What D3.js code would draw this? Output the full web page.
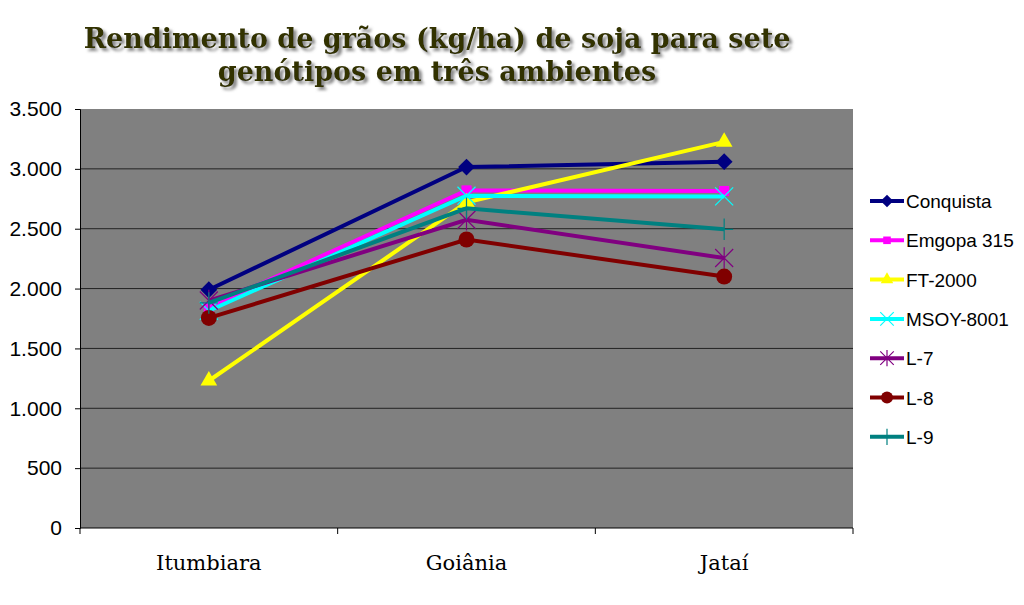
<!DOCTYPE html>
<html>
<head>
<meta charset="utf-8">
<script src="https://cdn.jsdelivr.net/npm/d3@7"></script>
<style>
  body { margin: 0; background: #fff; }
  svg { display: block; }
</style>
</head>
<body>
<svg class="chart" width="1024" height="605"></svg>
<script>
const width = 1024;
const height = 605;
const margin = { top: 109, right: 171, bottom: 77, left: 80 };

// data
const locais = ['Itumbiara', 'Goiânia', 'Jataí'];
const genotipos = ['Conquista', 'Emgopa 315', 'FT-2000', 'MSOY-8001', 'L-7', 'L-8', 'L-9'];
const conquista = [1990, 3015, 3060];
const emgopa315 = [1845, 2820, 2815];
const ft2000 = [1230, 2720, 3225];
const msoy8001 = [1815, 2775, 2770];
const l7 = [1900, 2575, 2255];
const l8 = [1755, 2410, 2100];
const l9 = [1880, 2670, 2495];
const yTicks = [0, 500, 1000, 1500, 2000, 2500, 3000, 3500];

const cores = ['#000080', '#ff00ff', '#ffff00', '#00ffff', '#800080', '#800000', '#008080'];
const simbolos = ['diamond', 'square', 'triangle', 'x', 'asterisk', 'circle', 'plus'];
const valores = [conquista, emgopa315, ft2000, msoy8001, l7, l8, l9];

const series = genotipos.map((nome, i) => ({
  nome,
  cor: cores[i],
  simbolo: simbolos[i],
  valores: valores[i].map((v, j) => ({ local: locais[j], v })),
}));

const w = width - margin.left - margin.right;
const h = height - margin.top - margin.bottom;

const svg = d3.select('.chart');

const defs = svg.append('defs');
const sombra = defs.append('filter').attr('id', 'sombra')
  .attr('x', '-5%').attr('y', '-20%').attr('width', '110%').attr('height', '140%');
sombra.append('feGaussianBlur').attr('in', 'SourceAlpha').attr('stdDeviation', 1.5);
sombra.append('feOffset').attr('dx', 3).attr('dy', 3).attr('result', 'off');
sombra.append('feFlood').attr('flood-color', '#888');
sombra.append('feComposite').attr('in2', 'off').attr('operator', 'in');
const merge = sombra.append('feMerge');
merge.append('feMergeNode');
merge.append('feMergeNode').attr('in', 'SourceGraphic');

// title
const titulo = svg.append('text')
  .attr('x', 437)
  .attr('text-anchor', 'middle')
  .attr('font-family', 'DejaVu Serif, serif')
  .attr('font-weight', 'bold')
  .attr('font-size', 27)
  .attr('fill', '#333300')
  .attr('filter', 'url(#sombra)');
titulo.append('tspan').attr('x', 437).attr('y', 48).text('Rendimento de grãos (kg/ha) de soja para sete');
titulo.append('tspan').attr('x', 437).attr('y', 81).text('genótipos em três ambientes');

const g = svg.append('g').attr('transform', `translate(${margin.left},${margin.top})`);

const x = d3.scaleBand().domain(locais).range([0, w]);
const y = d3.scaleLinear().domain([0, 3500]).range([h, 0]);

g.append('rect').attr('width', w).attr('height', h).attr('fill', '#808080');

g.append('g')
  .selectAll('line')
  .data(yTicks.filter(t => t > 0 && t < 3500))
  .join('line')
  .attr('x1', 0).attr('x2', w)
  .attr('y1', d => y(d)).attr('y2', d => y(d))
  .attr('stroke', '#222').attr('stroke-width', 1);

const fmt = d3.format(',');
const yAxis = g.append('g')
  .call(d3.axisLeft(y).tickValues(yTicks).tickSize(5).tickPadding(13)
    .tickFormat(d => fmt(d).replace(/,/g, '.')));
yAxis.select('.domain').attr('stroke', '#000');
yAxis.selectAll('.tick line').attr('stroke', '#000');
yAxis.selectAll('text')
  .attr('font-family', 'Liberation Sans, Arial, sans-serif')
  .attr('font-size', 21)
  .attr('fill', '#000');

const xAxisG = g.append('g').attr('transform', `translate(0,${h})`);
xAxisG.append('line').attr('x1', 0).attr('x2', w).attr('stroke', '#000');
xAxisG.selectAll('.tk')
  .data([0, 1, 2, 3])
  .join('line')
  .attr('class', 'tk')
  .attr('x1', i => i * x.bandwidth()).attr('x2', i => i * x.bandwidth())
  .attr('y1', 0).attr('y2', 6)
  .attr('stroke', '#000');
xAxisG.selectAll('text')
  .data(locais)
  .join('text')
  .attr('x', d => x(d) + x.bandwidth() / 2)
  .attr('y', 42)
  .attr('text-anchor', 'middle')
  .attr('font-family', 'DejaVu Serif, serif')
  .attr('font-size', 21)
  .attr('fill', '#000')
  .text(d => d);

const cx = d => x(d.local) + x.bandwidth() / 2;

const linha = d3.line().x(cx).y(d => y(d.v));

function desenhaSimbolo(sel, s, tam) {
  const k = tam / 8;
  if (s.simbolo === 'x' || s.simbolo === 'asterisk' || s.simbolo === 'plus') {
    let path = '';
    const r = 9 * k;
    if (s.simbolo !== 'plus') path += `M${-r},${-r}L${r},${r}M${-r},${r}L${r},${-r}`;
    if (s.simbolo !== 'x') path += `M0,${-r * 1.2}L0,${r * 1.2}`;
    if (s.simbolo === 'plus') path += `M${-r},0L${r},0`;
    sel.append('path').attr('d', path).attr('stroke', s.cor).attr('stroke-width', 1.2).attr('fill', 'none');
    return;
  }
  const tipos = {
    diamond: d3.symbolDiamond2,
    square: d3.symbolSquare2,
    triangle: d3.symbolTriangle2,
    circle: d3.symbolCircle,
  };
  const area = { diamond: 180, square: 130, triangle: 200, circle: 200 }[s.simbolo] * k * k;
  sel.append('path')
    .attr('d', d3.symbol().type(tipos[s.simbolo]).size(area)())
    .attr('fill', s.cor);
}

const grupos = g.selectAll('.serie')
  .data(series)
  .join('g')
  .attr('class', 'serie');

grupos.append('path')
  .attr('d', d => linha(d.valores))
  .attr('fill', 'none')
  .attr('stroke', d => d.cor)
  .attr('stroke-width', 4);

grupos.each(function (s) {
  d3.select(this).selectAll('.pt')
    .data(s.valores)
    .join('g')
    .attr('class', 'pt')
    .attr('transform', d => `translate(${cx(d)},${y(d.v)})`)
    .each(function () { desenhaSimbolo(d3.select(this), s, 8); });
});

// legend
const leg = svg.append('g').attr('transform', 'translate(870,201)');
const itens = leg.selectAll('g')
  .data(series)
  .join('g')
  .attr('transform', (d, i) => `translate(0,${i * 39.3})`);
itens.append('line')
  .attr('x1', 0).attr('x2', 34)
  .attr('stroke', d => d.cor).attr('stroke-width', 4);
itens.append('g')
  .attr('transform', 'translate(17,0)')
  .each(function (s) { desenhaSimbolo(d3.select(this), s, 6); });
itens.append('text')
  .attr('x', 36).attr('y', 7)
  .attr('font-family', 'Liberation Sans, Arial, sans-serif')
  .attr('font-size', 19)
  .attr('fill', '#000')
  .text(d => d.nome);
</script>
</body>
</html>
